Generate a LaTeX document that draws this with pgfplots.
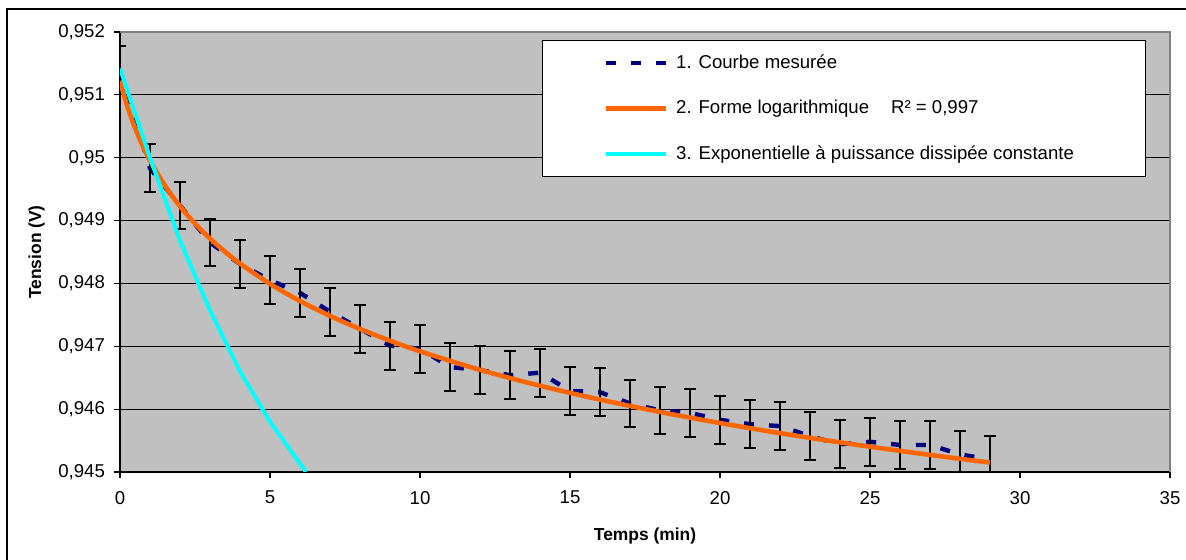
\documentclass[border=0pt]{standalone}
\usepackage{pgfplots}
\usepackage{pgfplotstable}
\pgfplotsset{compat=1.18}
\usepackage{fontspec}
\setmainfont{Liberation Sans}
\definecolor{navyc}{HTML}{000080}
\definecolor{orangec}{HTML}{FF6600}
\definecolor{cyanc}{HTML}{00FFFF}
\definecolor{plotbg}{HTML}{C0C0C0}
\definecolor{framegray}{HTML}{808080}

\pgfplotstableread{
x y e
0 0.95139 0.00038
1 0.94983 0.00038
2 0.94924 0.00038
3 0.94865 0.00038
4 0.94831 0.00038
5 0.94805 0.00038
6 0.94785 0.00038
7 0.94755 0.00038
8 0.94728 0.00038
9 0.94701 0.00038
10 0.94696 0.00038
11 0.94667 0.00038
12 0.94662 0.00038
13 0.94654 0.00038
14 0.94658 0.00038
15 0.94629 0.00038
16 0.94627 0.00038
17 0.94609 0.00038
18 0.94598 0.00038
19 0.94594 0.00038
20 0.94583 0.00038
21 0.94576 0.00038
22 0.94573 0.00038
23 0.94557 0.00038
24 0.94544 0.00038
25 0.94548 0.00038
26 0.94543 0.00038
27 0.94543 0.00038
28 0.94528 0.00038
29 0.94520 0.00038
}\measured

\pgfplotstableread{
x y
0 0.951220
0.25 0.950809
0.5 0.950476
0.75 0.950197
1 0.949955
1.5 0.949554
2 0.949227
2.5 0.948952
3 0.948714
3.5 0.948504
4 0.948317
5 0.947993
6 0.947720
7 0.947483
8 0.947275
9 0.947089
10 0.946920
12 0.946625
14 0.946372
16 0.946152
18 0.945955
20 0.945779
22 0.945618
24 0.945471
26 0.945336
28 0.945210
29 0.945150
}\logform

\pgfplotstableread{
x y
0 0.95142
1 0.95000
2 0.94868
3 0.94757
4 0.94660
5 0.94580
6 0.945133
6.2 0.94500
}\expo

\begin{document}
\begin{tikzpicture}[font=\fontsize{9.3}{11}\selectfont]
\path[use as bounding box] (-60pt,-44pt) rectangle (533pt,236pt);
\draw[black, line width=0.6pt] (-56.5pt,-44pt) -- (-56.5pt,231.5pt) -- (533pt,231.5pt);
\begin{axis}[
  scale only axis, width=525pt, height=220pt,
  xmin=0, xmax=35, ymin=0.945, ymax=0.952,
  xtick={0,5,10,15,20,25,30,35},
  ytick={0.945,0.946,0.947,0.948,0.949,0.95,0.951,0.952},
  axis lines*=left,
  axis line style={black, line width=0.6pt, -},
  tick align=outside, major tick length=3pt,
  tick style={black, line width=0.6pt},
  ymajorgrids, grid style={black, line width=0.5pt},
  axis background/.style={fill=plotbg},
  /pgf/number format/assume math mode=true,
  /pgf/number format/use comma,
  scaled y ticks=false,
  yticklabel style={/pgf/number format/fixed, /pgf/number format/precision=3, xshift=-1pt},
  xticklabel style={yshift=-3pt},
  every axis x label/.style={at={(axis description cs:0.5,0)}, anchor=center, yshift=-32pt},
  every axis y label/.style={at={(axis description cs:-0.0794,0.5)}, anchor=center, rotate=90},
  xlabel={\fontsize{8.7}{10}\selectfont\bfseries Temps (min)},
  ylabel={\fontsize{8.7}{10}\selectfont\bfseries Tension (V)},
  legend cell align=left,
  legend style={at={(0.4019,0.9818)}, anchor=north west,
    draw=black, line width=0.6pt, fill=white,
    inner xsep=30.5pt, inner ysep=5pt, row sep=10.5pt, column sep=2pt,
    font=\fontsize{9.3}{11}\selectfont},
  after end axis/.code={\draw[framegray, line width=0.8pt] (rel axis cs:0,1) -- (rel axis cs:1,1) -- (rel axis cs:1,0);},
]
\addplot[navyc, line width=2.2pt, dash pattern=on 5pt off 7.5pt,
  legend image code/.code={\draw[navyc, line width=2.2pt, dash pattern=on 5pt off 7.5pt] (0pt,0pt) -- (30pt,0pt);},
  error bars/.cd, y dir=both, y explicit,
  error bar style={black, solid, line width=1pt},
  error mark options={black, solid, rotate=90, mark size=3pt, line width=1pt}]
  table[x=x, y=y, y error=e]{\measured};
\addlegendentry{\makebox[202pt][l]{1. Courbe mesurée}}
\addplot[orangec, line width=2.3pt, smooth,
  legend image code/.code={\draw[orangec, line width=2.3pt] (0pt,0pt) -- (30pt,0pt);}]
  table[x=x,y=y]{\logform};
\addlegendentry{\makebox[202pt][l]{2. Forme logarithmique\hspace{11pt}R² = 0,997}}
\addplot[cyanc, line width=2pt,
  legend image code/.code={\draw[cyanc, line width=2pt] (0pt,0pt) -- (30pt,0pt);}]
  table[x=x,y=y]{\expo};
\addlegendentry{\makebox[202pt][l]{3. Exponentielle à puissance dissipée constante}}
\end{axis}
\end{tikzpicture}
\end{document}
